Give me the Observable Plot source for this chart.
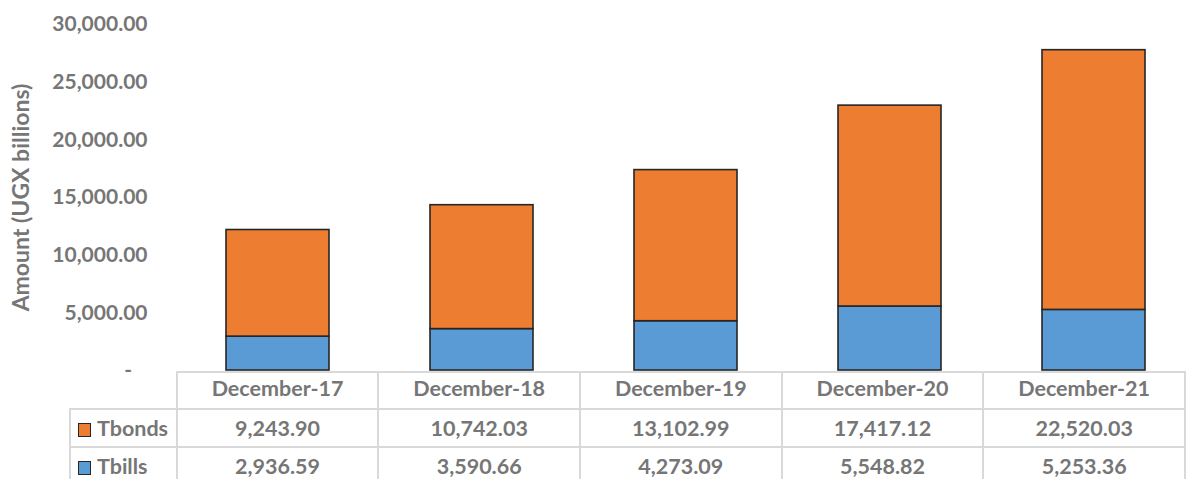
<!DOCTYPE html>
<html><head><meta charset="utf-8">
<script src="https://cdn.jsdelivr.net/npm/d3@7"></script>
<script src="https://cdn.jsdelivr.net/npm/@observablehq/plot@0.6"></script>
<style>
body{margin:0;background:#fff;}
#wrap{position:relative;width:1186px;height:479px;overflow:hidden;font-family:Lato,sans-serif;}
#wrap svg [aria-label="y-axis label"] text{font-size:23px;}
#tbl{position:absolute;left:69px;top:371px;border-collapse:collapse;table-layout:fixed;color:#767676;font-weight:bold;font-size:21.5px;font-family:Lato,sans-serif;}
#tbl td{border:2px solid #d9d9d9;text-align:center;padding:0;white-space:nowrap;}
#tbl tr.h td{height:33px;vertical-align:top;padding-top:2px;}
#tbl tr.r td{height:36px;}
#tbl td.corner{border:none;}
#tbl td.rh{text-align:left;padding-left:7px;}
.sw{display:inline-block;width:11px;height:12px;border:1.5px solid #262626;margin-right:6px;vertical-align:-1px;}
</style></head>
<body><div id="wrap"></div>
<script>
const categories = ["December-17","December-18","December-19","December-20","December-21"];
const tbonds = [9243.90, 10742.03, 13102.99, 17417.12, 22520.03];
const tbills = [2936.59, 3590.66, 4273.09, 5548.82, 5253.36];
const seriesNames = ["Tbills","Tbonds"];
const seriesColors = ["#5B9BD5","#ED7D31"];
const yTicks = [0,5000,10000,15000,20000,25000,30000];
const yLabel = "Amount (UGX billions)";

const data = categories.flatMap((c,i)=>[
  {cat:c, series:"Tbills", value:tbills[i]},
  {cat:c, series:"Tbonds", value:tbonds[i]}
]);
const fmt = d3.format(",.2f");

const chart = Plot.plot({
  width:1186, height:380, marginTop:24, marginBottom:10, marginLeft:176, marginRight:-10,
  style:{fontFamily:"Lato, sans-serif", fontSize:"21px", fontWeight:"bold", color:"#767676", background:"#fff", overflow:"visible"},
  x:{domain:categories, paddingInner:0.495, paddingOuter:0.245, axis:null},
  y:{domain:[0,30000], ticks:yTicks, tickFormat:d=> d===0 ? "-\u00a0\u00a0\u00a0" : fmt(d), tickSize:0, tickPadding:29,
     label:yLabel, labelAnchor:"center", labelArrow:"none", labelOffset:164},
  color:{domain:seriesNames, range:seriesColors},
  marks:[
    Plot.barY(data, {x:"cat", y:"value", fill:"series", stroke:"#262626", strokeWidth:1.6, order:seriesNames})
  ]
});
const wrap = document.getElementById("wrap");
wrap.appendChild(chart);

// data table below chart
const colW = [107,204,204,204,204,204];
const tbl = document.createElement("table");
tbl.id = "tbl";
const cg = document.createElement("colgroup");
colW.forEach(w=>{const c=document.createElement("col"); c.style.width=w+"px"; cg.appendChild(c);});
tbl.appendChild(cg);
const hr = document.createElement("tr"); hr.className="h";
const corner = document.createElement("td"); corner.className="corner"; hr.appendChild(corner);
categories.forEach(c=>{const td=document.createElement("td"); td.textContent=c; hr.appendChild(td);});
tbl.appendChild(hr);
const rows = [["Tbonds", tbonds, seriesColors[1]], ["Tbills", tbills, seriesColors[0]]];
rows.forEach(([name, vals, col])=>{
  const tr=document.createElement("tr"); tr.className="r";
  const th=document.createElement("td"); th.className="rh";
  const sw=document.createElement("span"); sw.className="sw"; sw.style.background=col;
  th.appendChild(sw); th.appendChild(document.createTextNode(name));
  tr.appendChild(th);
  vals.forEach(v=>{const td=document.createElement("td"); td.textContent=fmt(v); tr.appendChild(td);});
  tbl.appendChild(tr);
});
wrap.appendChild(tbl);
</script>
</body></html>
